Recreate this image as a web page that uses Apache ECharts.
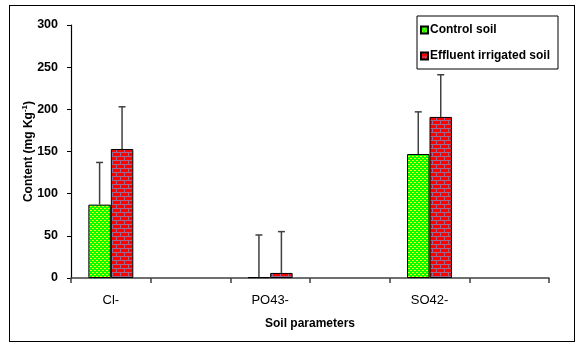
<!DOCTYPE html>
<html>
<head>
<meta charset="utf-8">
<script src="https://cdn.jsdelivr.net/npm/echarts@6/dist/echarts.min.js"></script>
<style>
html,body{margin:0;padding:0;background:#fff;}
#frame{position:absolute;left:9px;top:5px;width:566px;height:337px;border:1px solid #000;box-sizing:border-box;}
#chart{position:absolute;left:0;top:0;width:583px;height:348px;}
</style>
</head>
<body>
<div id="frame"></div>
<div id="chart"></div>
<script>
var categories = ['Cl-', ' ', 'PO43-', '  ', 'SO42-', '   '];
var controlSoil = [87, null, 1, null, 147, null];
var effluentSoil = [153, null, 6, null, 191, null];
var controlErr = [50, null, 50, null, 50, null];
var effluentErr = [50, null, 49, null, 50, null];
var yTicks = [0, 50, 100, 150, 200, 250, 300];

function makeGreen() {
  var c = document.createElement('canvas');
  c.width = 4; c.height = 4;
  var g = c.getContext('2d');
  g.fillStyle = '#00ff00'; g.fillRect(0, 0, 4, 4);
  g.fillStyle = '#ffff00';
  g.fillRect(0, 0, 2, 1);
  g.fillRect(2, 2, 2, 1);
  return c;
}
function makeBrick() {
  var c = document.createElement('canvas');
  c.width = 8; c.height = 8;
  var g = c.getContext('2d');
  g.fillStyle = '#ff0000'; g.fillRect(0, 0, 8, 8);
  g.fillStyle = '#9a6a90';
  g.fillRect(0, 0, 8, 1);
  g.fillRect(0, 4, 8, 1);
  g.fillRect(0, 0, 1, 4);
  g.fillRect(4, 4, 1, 4);
  return c;
}
var greenPat = { image: makeGreen(), repeat: 'repeat' };
var brickPat = { image: makeBrick(), repeat: 'repeat' };

function errData(vals, errs) {
  var out = [];
  for (var i = 0; i < vals.length; i++) {
    if (vals[i] != null) out.push([i, vals[i], errs[i]]);
  }
  return out;
}
function errRender(sign) {
  return function (params, api) {
    var idx = api.value(0);
    var v = api.value(1);
    var e = api.value(2);
    var band = api.size([1, 0])[0];
    var off = sign * band * 0.141;
    var p0 = api.coord([idx, v]);
    var p1 = api.coord([idx, v + e]);
    var x = p0[0] + off;
    var style = { stroke: '#404040', lineWidth: 1.5 };
    return {
      type: 'group',
      children: [
        { type: 'line', shape: { x1: x, y1: p0[1], x2: x, y2: p1[1] }, style: style },
        { type: 'line', shape: { x1: x - 3.5, y1: p1[1], x2: x + 3.5, y2: p1[1] }, style: style }
      ]
    };
  };
}

var chart = echarts.init(document.getElementById('chart'), null, { renderer: 'canvas' });
chart.setOption({
  animation: false,
  backgroundColor: 'transparent',
  textStyle: { fontFamily: 'Liberation Sans, Arial, sans-serif' },
  grid: { left: 71, right: 34, top: 25, bottom: 70 },
  legend: {
    left: 417, top: 16, orient: 'vertical',
    width: 130,
    itemWidth: 7, itemHeight: 7, itemGap: 14,
    padding: [8, 8, 7, 3],
    borderColor: '#000', borderWidth: 1,
    textStyle: { fontWeight: 'bold', fontSize: 12, color: '#000', padding: [0, 0, 0, -3] },
    data: [
      { name: 'Control soil', icon: 'rect' },
      { name: 'Effluent irrigated soil', icon: 'rect' }
    ]
  },
  xAxis: {
    type: 'category',
    data: categories,
    name: 'Soil parameters',
    nameLocation: 'middle',
    nameGap: 40,
    nameMoveOverlap: false,
    nameTextStyle: { fontWeight: 'bold', fontSize: 12, color: '#000' },
    axisLine: { lineStyle: { color: '#404040', width: 1.5 } },
    axisTick: { show: true, length: 5, lineStyle: { color: '#404040', width: 1.5 } },
    axisLabel: { fontSize: 13, color: '#000', margin: 16, interval: 0 }
  },
  yAxis: {
    type: 'value',
    min: 0, max: 300, interval: 50,
    name: '{b|Content (mg Kg}{s|-1}{b|)}',
    nameLocation: 'middle',
    nameRotate: 90,
    nameGap: 35,
    nameMoveOverlap: false,
    nameTextStyle: {
      rich: {
        b: { fontWeight: 'bold', fontSize: 12, color: '#000' },
        s: { fontWeight: 'bold', fontSize: 8, color: '#000', padding: [0, 0, 7, 0] }
      }
    },
    axisLine: { show: true, lineStyle: { color: '#000', width: 1.2 } },
    axisTick: { show: true, length: 4, lineStyle: { color: '#000' } },
    splitLine: { show: false },
    axisLabel: {
      fontWeight: 'bold', fontSize: 12.5, color: '#000', margin: 13,
      formatter: function (v) { return yTicks.indexOf(v) >= 0 ? String(v) : ''; }
    }
  },
  series: [
    {
      name: 'Control soil', type: 'bar', data: controlSoil,
      barWidth: '28.2%', barGap: '0%',
      itemStyle: { color: greenPat, borderColor: '#000', borderWidth: 1 }
    },
    {
      name: 'Effluent irrigated soil', type: 'bar', data: effluentSoil,
      barWidth: '28.2%', barGap: '0%',
      itemStyle: { color: brickPat, borderColor: '#000', borderWidth: 1 }
    },
    {
      type: 'custom', name: 'errControl', z: 5,
      renderItem: errRender(-1),
      encode: { x: 0, y: 1 },
      data: errData(controlSoil, controlErr)
    },
    {
      type: 'custom', name: 'errEffluent', z: 5,
      renderItem: errRender(1),
      encode: { x: 0, y: 1 },
      data: errData(effluentSoil, effluentErr)
    }
  ]
});
</script>
</body>
</html>
